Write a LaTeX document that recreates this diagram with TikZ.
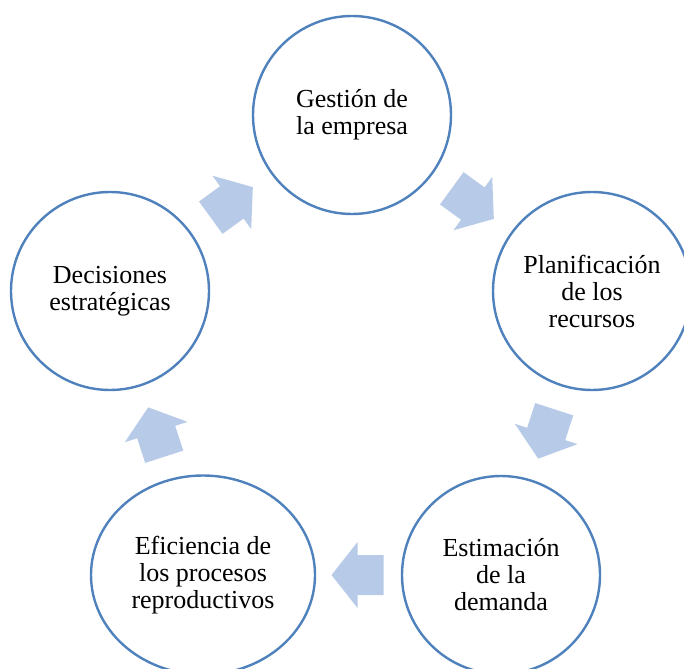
\documentclass[tikz,border=0pt]{standalone}
\usepackage{fontspec}
\setmainfont{Liberation Serif}
\usetikzlibrary{calc,shapes.geometric}
\definecolor{ringblue}{HTML}{4F81BD}
\definecolor{arrowblue}{HTML}{B7CBE8}
\tikzset{
  stage/.style={circle, draw=ringblue, line width=2.4bp, fill=white, minimum size=198bp,
    inner sep=0pt, align=center, font=\fontsize{26bp}{27bp}\selectfont},
  widestage/.style={stage, ellipse, minimum width=224bp, minimum height=199bp},
  blockarrow/.style={fill=arrowblue, draw=none}
}
\newcommand\cyclearrow[2]{% at, angle
  \begin{scope}[shift={#1}, rotate=#2]
    \fill[blockarrow] (-25bp,-20bp) -- (1bp,-20bp) -- (1bp,-33bp) -- (27bp,0bp)
      -- (1bp,33bp) -- (1bp,20bp) -- (-25bp,20bp) -- cycle;
  \end{scope}}
\begin{document}
\begin{tikzpicture}[x=1bp,y=-1bp]
  \useasboundingbox (0,0) rectangle (684,669);
  \clip (0,0) rectangle (684,669);
  \node[stage] (ges) at (352,115) {Gestión de\\la empresa};
  \node[stage] (pla) at (592,291) {Planificación\\de los\\recursos};
  \node[stage] (est) at (501,575) {Estimación\\de la\\demanda};
  \node[widestage] (efi) at (203,575) {Eficiencia de\\los procesos\\reproductivos};
  \node[stage] (dec) at (110,291) {Decisiones\\estratégicas};
  \cyclearrow{($(ges)!0.5!(pla)$)}{-36}
  \cyclearrow{($(pla)!0.5!(est)$)}{-108}
  \cyclearrow{($(est.west)!0.5!(efi.east)$)}{180}
  \cyclearrow{($(efi)!0.5!(dec)$)}{108}
  \cyclearrow{($(dec)!0.5!(ges)$)}{36}
\end{tikzpicture}
\end{document}
